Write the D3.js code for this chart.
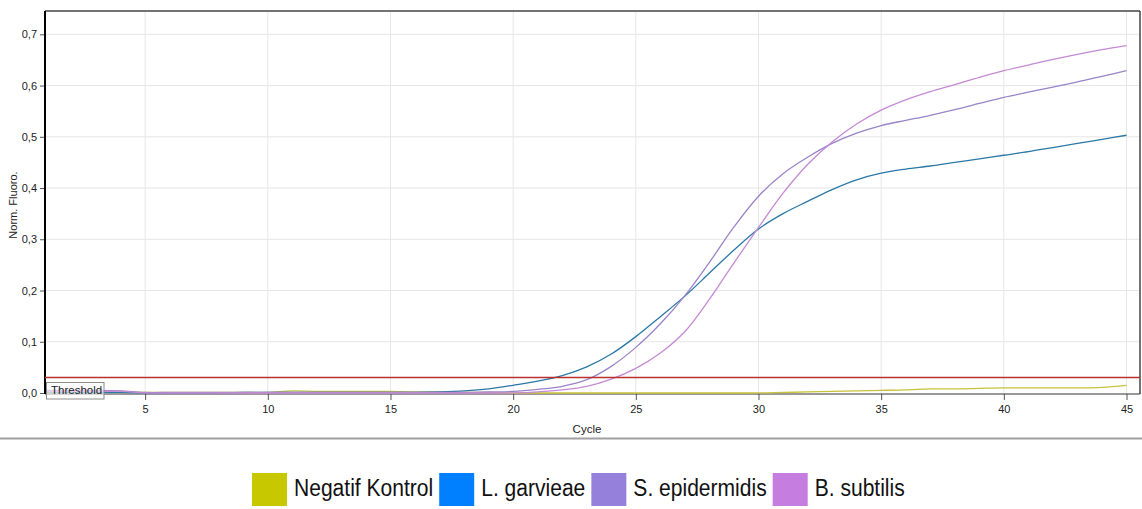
<!DOCTYPE html>
<html>
<head>
<meta charset="utf-8">
<script src="https://cdnjs.cloudflare.com/ajax/libs/d3/7.8.5/d3.min.js"></script>
<style>
  body { margin: 0; background: #fff; }
  svg { display: block; font-family: "Liberation Sans", Arial, sans-serif; }
</style>
</head>
<body>
<div id="chart"></div>
<script>
(function(){
  // cycles on the x axis
  const cycles = [1,2,3,4,5,6,7,8,9,10,11,12,13,14,15,16,17,18,19,20,21,22,23,24,25,
                  26,27,28,29,30,31,32,33,34,35,36,37,38,39,40,41,42,43,44,45]

  // norm. fluoro. per cycle
  const negKontrol = [0.001,0.001,0.001,0.001,0.001,0.001,0.001,0.001,0.001,0.001,
                      0.004,0.003,0.003,0.003,0.003,0.002,0.002,0.001,0.001,0.000,
                      0.000,0.000,0.000,0.000,0.000,0.000,0.000,0.000,0.000,0.000,
                      0.001,0.002,0.003,0.004,0.005,0.006,0.008,0.008,0.009,0.010,
                      0.010,0.010,0.010,0.011,0.015]
  const lGarvieae = [0.002,0.001,0.001,0.001,0.000,0.000,0.000,0.000,0.001,0.001,
                     0.001,0.001,0.001,0.001,0.001,0.001,0.002,0.004,0.008,0.015,
                     0.023,0.034,0.051,0.076,0.110,0.149,0.189,0.234,0.279,0.320,
                     0.350,0.374,0.397,0.416,0.429,0.437,0.443,0.450,0.457,0.464,
                     0.471,0.479,0.487,0.495,0.503]
  const sEpidermidis = [0.005,0.005,0.005,0.004,0.001,0.001,0.001,0.001,0.001,0.001,
                        0.001,0.001,0.001,0.001,0.001,0.001,0.001,0.001,0.002,0.003,
                        0.007,0.013,0.026,0.052,0.089,0.135,0.190,0.255,0.324,0.384,
                        0.428,0.460,0.487,0.507,0.522,0.532,0.542,0.553,0.565,0.577,
                        0.587,0.597,0.607,0.618,0.629]
  const bSubtilis = [0.003,0.003,0.003,0.003,0.000,0.000,0.000,0.000,0.000,0.000,
                     0.000,0.000,0.000,0.000,0.000,0.000,0.000,0.000,0.000,0.000,
                     0.002,0.006,0.013,0.027,0.048,0.078,0.120,0.183,0.254,0.323,
                     0.390,0.446,0.490,0.525,0.552,0.572,0.588,0.602,0.616,0.629,
                     0.640,0.651,0.661,0.670,0.678]

  const threshold = 0.030
  const xTicks = [5,10,15,20,25,30,35,40,45]
  const yTicks = [0,0.1,0.2,0.3,0.4,0.5,0.6,0.7]

  const seriesNames = ['Negatif Kontrol','L. garvieae','S. epidermidis','B. subtilis']
  const seriesValues = [negKontrol, lGarvieae, sEpidermidis, bSubtilis]
  const legendColors = ['#c8c800','#0080ff','#9580dc','#c67de0']
  const lineColors = ['#c9c23a','#2a78a6','#9a84c8','#c48ad4']

  const W = 1142, H = 509
  const left = 45, right = 1140, top = 11, bottom = 394

  var svg = d3.select('#chart').append('svg')
    .attr('width', W).attr('height', H)

  svg.append('rect').attr('width', W).attr('height', H).attr('fill', '#fff')

  var x = d3.scaleLinear().domain([0.918, 45.55]).range([left, right])
  var y = d3.scaleLinear().domain([-0.002, 0.7455]).range([bottom, top])

  // grid
  svg.append('g').selectAll('line').data(xTicks).enter().append('line')
    .attr('x1', d => x(d)).attr('x2', d => x(d))
    .attr('y1', top).attr('y2', bottom)
    .attr('stroke', '#e6e6e6').attr('stroke-width', 1)
  svg.append('g').selectAll('line').data(yTicks.slice(1)).enter().append('line')
    .attr('x1', left).attr('x2', right)
    .attr('y1', d => y(d)).attr('y2', d => y(d))
    .attr('stroke', '#e6e6e6').attr('stroke-width', 1)

  // axes
  var fmt = d => d3.format('.1f')(d).replace('.', ',')
  var yAxis = svg.append('g').attr('transform', 'translate(' + left + ',0)')
    .call(d3.axisLeft(y).tickValues(yTicks).tickFormat(fmt).tickSize(5).tickPadding(3))
  var xAxis = svg.append('g').attr('transform', 'translate(0,' + bottom + ')')
    .call(d3.axisBottom(x).tickValues(xTicks).tickSize(6).tickPadding(5))
  ;[yAxis, xAxis].forEach(function(a){
    a.select('.domain').remove()
    a.selectAll('text').attr('font-size', 11).attr('fill', '#222')
      .attr('font-family', '"Liberation Sans", Arial, sans-serif')
    a.selectAll('.tick line').attr('stroke', '#555')
  })

  // frame
  svg.append('line').attr('x1', left).attr('x2', right).attr('y1', top).attr('y2', top)
    .attr('stroke', '#444').attr('stroke-width', 1.5)
  svg.append('line').attr('x1', right).attr('x2', right).attr('y1', top).attr('y2', bottom)
    .attr('stroke', '#444').attr('stroke-width', 1.5)
  svg.append('line').attr('x1', left).attr('x2', right).attr('y1', bottom).attr('y2', bottom)
    .attr('stroke', '#333').attr('stroke-width', 1)
  svg.append('line').attr('x1', left).attr('x2', left).attr('y1', top).attr('y2', bottom)
    .attr('stroke', '#000').attr('stroke-width', 2)

  // curves
  var line = d3.line()
    .x((d, i) => x(cycles[i]))
    .y(d => y(d))
    .curve(d3.curveCatmullRom.alpha(0.5))

  svg.append('g').selectAll('path').data(seriesValues).enter().append('path')
    .attr('d', d => line(d))
    .attr('fill', 'none')
    .attr('stroke', (d, i) => lineColors[i])
    .attr('stroke-width', 1.3)

  // threshold
  svg.append('line').attr('x1', left).attr('x2', right)
    .attr('y1', y(threshold)).attr('y2', y(threshold))
    .attr('stroke', '#b8312f').attr('stroke-width', 1.5)

  svg.append('rect').attr('x', 46.5).attr('y', 382.5).attr('width', 57.5).attr('height', 16.5)
    .attr('fill', 'rgba(255,255,255,0.6)').attr('stroke', '#8a8a8a').attr('stroke-width', 1)
  svg.append('text').attr('x', 51).attr('y', 394).attr('font-size', 11.5)
    .attr('fill', '#222').text('Threshold')

  // axis titles
  svg.append('text').attr('transform', 'translate(17,205) rotate(-90)')
    .attr('text-anchor', 'middle').attr('font-size', 11).attr('fill', '#222')
    .text('Norm. Fluoro.')
  svg.append('text').attr('x', 587).attr('y', 433).attr('text-anchor', 'middle')
    .attr('font-size', 11.5).attr('fill', '#222').text('Cycle')

  // separator
  svg.append('line').attr('x1', 0).attr('x2', W).attr('y1', 438.5).attr('y2', 438.5)
    .attr('stroke', '#a0a0a0').attr('stroke-width', 2)

  // legend
  var lx = 252
  seriesNames.forEach(function(name, i){
    svg.append('rect').attr('x', lx).attr('y', 473).attr('width', 35).attr('height', 33)
      .attr('fill', legendColors[i])
    var t = svg.append('text').attr('x', lx + 42).attr('y', 495.5)
      .attr('font-size', 23).attr('fill', '#111').text(name)
    var w = t.node().getComputedTextLength() * 0.915
    t.attr('textLength', w).attr('lengthAdjust', 'spacingAndGlyphs')
    lx += 42 + w + 6
  })
})()
</script>
</body>
</html>
